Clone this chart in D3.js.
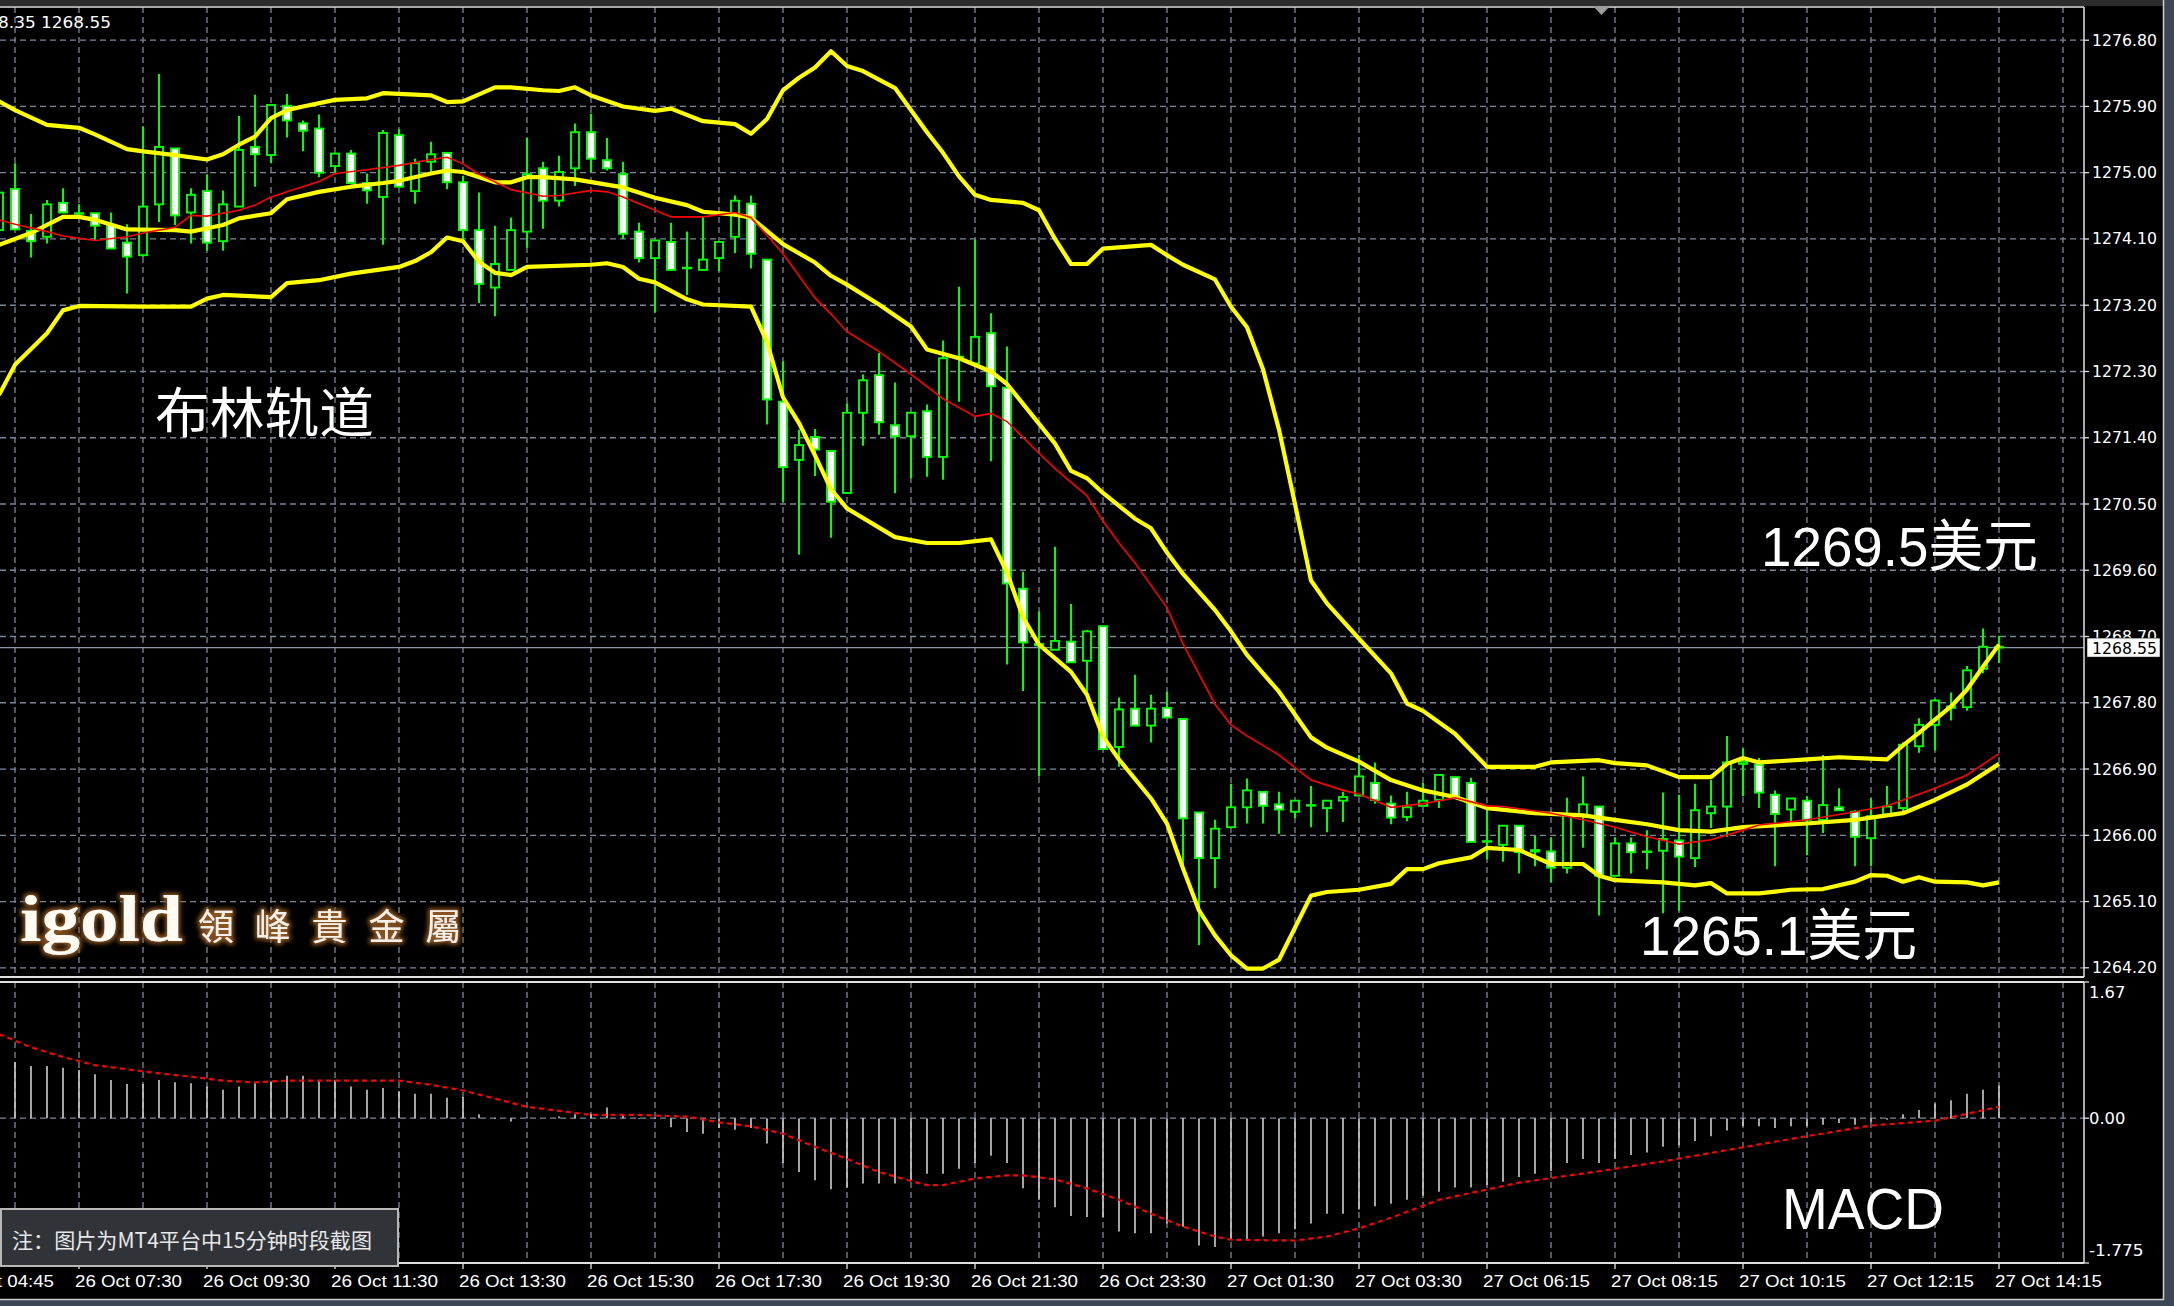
<!DOCTYPE html>
<html><head><meta charset="utf-8">
<script src="https://cdn.jsdelivr.net/npm/d3@7"></script>
<style>html,body{margin:0;padding:0;background:#000;overflow:hidden}</style>
</head><body>
<svg id="c" width="2174" height="1306" xmlns="http://www.w3.org/2000/svg"></svg>
<script>
// ---------- DATA ----------
const barStart = -1; // index of first bar in arrays below (15-minute bars)
const opens = [1274.22,1274.78,1274.21,1274.13,1274.59,1274.45,1274.45,1274.29,1274.05,1273.88,1274.57,
1275.33,1274.46,1274.75,1274.07,1274.54,1275.35,1275.24,1275.91,1275.67,1275.60,
1275.09,1275.26,1274.86,1274.67,1275.51,1274.75,1275.15,1275.27,1274.87,1274.22,
1273.44,1273.68,1274.20,1275.06,1274.62,1275.06,1275.55,1275.17,1274.98,1274.20,
1273.84,1274.06,1273.71,1273.68,1273.84,1274.13,1274.58,1273.82,1271.89,1271.10,
1271.41,1271.22,1270.65,1271.74,1272.25,1271.57,1271.42,1271.76,1271.14,1272.48,
1272.41,1272.82,1272.08,1269.35,1268.60,1268.52,1268.63,1268.37,1268.84,1267.20,
1267.72,1267.49,1267.73,1267.58,1266.31,1265.69,1266.11,1266.38,1266.59,1266.42,
1266.32,1266.41,1266.37,1266.47,1266.54,1266.71,1266.43,1266.25,1266.40,1266.48,
1266.79,1266.71,1265.92,1265.87,1266.13,1265.80,1265.78,1265.56,1266.27,1266.39,
1265.45,1265.89,1265.78,1265.79,1265.93,1265.69,1266.30,1266.39,1266.97,1266.96,
1266.55,1266.35,1266.47,1266.21,1266.38,1266.32,1265.96,1266.28,1266.37,1267.21,
1267.50,1267.73,1267.74,1268.26,1268.56];
const highs = [1274.80,1275.13,1274.44,1274.63,1274.79,1274.57,1274.45,1274.46,1274.30,1275.63,1276.34,
1275.33,1274.79,1274.98,1274.76,1275.77,1276.06,1275.92,1276.07,1275.71,1275.79,
1275.26,1275.31,1274.99,1275.58,1275.59,1275.19,1275.42,1275.27,1274.96,1274.73,
1274.28,1274.39,1275.47,1275.15,1275.23,1275.67,1275.80,1275.47,1275.15,1274.32,
1274.08,1274.32,1274.20,1274.40,1274.06,1274.69,1274.69,1273.82,1272.44,1271.51,
1271.52,1271.22,1271.87,1272.26,1272.55,1272.15,1271.74,1271.85,1272.72,1273.45,
1274.09,1273.09,1272.64,1269.58,1269.04,1269.92,1269.14,1268.79,1268.84,1267.87,
1268.18,1267.91,1267.95,1267.58,1266.31,1266.21,1266.70,1266.77,1266.59,1266.59,
1266.47,1266.67,1266.47,1266.59,1267.09,1266.99,1266.54,1266.59,1266.71,1266.82,
1266.79,1266.78,1266.37,1266.13,1266.13,1265.99,1265.97,1266.51,1266.80,1266.39,
1265.97,1265.97,1266.07,1266.58,1266.55,1266.70,1266.75,1267.35,1267.18,1267.05,
1266.61,1266.50,1266.53,1267.09,1266.64,1266.34,1266.50,1266.67,1267.26,1267.59,
1267.85,1267.94,1268.30,1268.81,1268.71];
const lows = [1274.15,1274.23,1273.85,1274.04,1274.45,1274.43,1274.09,1273.97,1273.36,1273.86,1274.33,
1274.29,1274.04,1273.94,1273.94,1274.54,1274.81,1275.13,1275.48,1275.29,1274.94,
1274.99,1274.86,1274.58,1274.02,1274.81,1274.58,1275.01,1274.78,1274.07,1273.23,
1273.05,1273.68,1273.98,1274.24,1274.54,1274.82,1275.01,1275.03,1274.10,1273.78,
1273.10,1273.68,1273.34,1273.68,1273.66,1273.91,1273.70,1271.58,1270.53,1269.81,
1270.88,1270.04,1270.65,1271.29,1271.44,1270.65,1270.85,1270.87,1270.83,1271.89,
1272.41,1271.08,1268.32,1267.96,1266.80,1268.52,1268.35,1267.88,1267.17,1266.93,
1267.49,1267.26,1267.60,1265.60,1264.51,1265.28,1266.11,1266.16,1266.16,1266.02,
1266.23,1266.11,1266.04,1266.18,1266.54,1266.43,1266.15,1266.19,1266.40,1266.37,
1266.52,1265.91,1265.67,1265.64,1265.48,1265.58,1265.36,1265.48,1265.83,1264.91,
1265.45,1265.48,1265.54,1264.94,1264.97,1265.57,1266.10,1265.98,1266.53,1266.37,
1265.58,1266.16,1265.73,1266.03,1266.34,1265.58,1265.58,1266.28,1266.32,1267.12,
1267.15,1267.56,1267.69,1268.20,1268.34];
const closes = [1274.73,1274.23,1274.07,1274.57,1274.46,1274.45,1274.28,1273.97,1273.86,1274.54,1275.35,
1274.42,1274.70,1274.05,1274.57,1275.31,1275.25,1275.92,1275.71,1275.57,1275.00,
1275.26,1274.86,1274.76,1275.54,1274.81,1275.13,1275.25,1274.87,1274.22,1273.49,
1273.76,1274.22,1274.98,1274.62,1275.01,1275.55,1275.19,1275.06,1274.17,1273.84,
1274.08,1273.68,1273.71,1273.82,1274.06,1274.62,1273.90,1271.92,1271.00,1271.30,
1271.24,1270.53,1271.74,1272.18,1271.61,1271.42,1271.74,1271.14,1272.48,1272.50,
1272.77,1272.10,1269.42,1268.62,1268.58,1268.64,1268.35,1268.77,1267.17,1267.71,
1267.49,1267.72,1267.60,1266.23,1265.69,1266.09,1266.38,1266.61,1266.40,1266.35,
1266.47,1266.41,1266.47,1266.52,1266.80,1266.48,1266.24,1266.38,1266.47,1266.82,
1266.52,1265.91,1265.92,1266.13,1265.77,1265.78,1265.56,1266.27,1266.42,1265.45,
1265.89,1265.77,1265.78,1265.95,1265.71,1266.34,1266.39,1266.99,1267.00,1266.58,
1266.29,1266.50,1266.21,1266.41,1266.34,1265.98,1266.26,1266.39,1267.23,1267.50,
1267.83,1267.75,1268.24,1268.56,1268.55];

// Bollinger bands and red moving average, read as [bar, price]
const bbUpper = [[-1,1275.97],[0,1275.85],[2,1275.65],[4,1275.61],[5,1275.52],[7,1275.32],[8,1275.29],[10,1275.24],[12,1275.18],[13,1275.25],[14,1275.38],[15,1275.49],[16,1275.74],[17,1275.85],[18,1275.90],[20,1275.99],[22,1276.01],[23,1276.08],[26,1276.05],[27,1275.96],[28,1275.97],[30,1276.16],[31,1276.16],[33,1276.12],[34,1276.11],[35,1276.16],[36,1276.05],[38,1275.90],[40,1275.84],[41,1275.87],[43,1275.70],[45,1275.66],[46,1275.53],[47,1275.73],[48,1276.12],[49,1276.29],[50,1276.43],[51,1276.65],[52,1276.45],[53,1276.38],[55,1276.15],[57,1275.55],[58,1275.27],[59,1274.95],[60,1274.70],[61,1274.63],[63,1274.59],[64,1274.49],[65,1274.10],[66,1273.76],[67,1273.76],[68,1273.97],[71,1274.02],[72,1273.88],[73,1273.75],[75,1273.55],[76,1273.18],[77,1272.90],[78,1272.33],[79,1271.51],[80,1270.50],[81,1269.46],[82,1269.15],[84,1268.67],[86,1268.20],[87,1267.79],[88,1267.69],[90,1267.38],[92,1266.93],[95,1266.93],[96,1266.99],[99,1267.02],[100,1266.98],[102,1266.95],[104,1266.79],[106,1266.79],[107,1266.97],[108,1267.05],[109,1266.99],[112,1267.03],[114,1267.06],[117,1267.03],[118,1267.22],[119,1267.39],[120,1267.57],[121,1267.75],[122,1267.98],[123,1268.29],[124,1268.59]];
const bbMiddle = [[-1,1274.02],[1,1274.18],[2,1274.29],[3,1274.40],[4,1274.40],[5,1274.36],[7,1274.23],[10,1274.22],[11,1274.20],[13,1274.29],[14,1274.38],[16,1274.45],[17,1274.64],[19,1274.74],[21,1274.81],[23,1274.86],[24,1274.89],[26,1274.99],[27,1275.03],[28,1275.01],[30,1274.87],[31,1274.87],[32,1274.94],[33,1274.94],[35,1274.91],[38,1274.80],[40,1274.66],[42,1274.56],[43,1274.47],[45,1274.43],[46,1274.39],[47,1274.21],[48,1274.03],[50,1273.78],[51,1273.60],[52,1273.48],[54,1273.21],[56,1272.91],[57,1272.60],[59,1272.48],[61,1272.30],[62,1272.13],[63,1271.86],[65,1271.32],[66,1270.95],[67,1270.85],[68,1270.65],[70,1270.30],[71,1270.17],[72,1269.84],[73,1269.55],[75,1269.06],[76,1268.77],[77,1268.45],[79,1267.95],[81,1267.33],[82,1267.19],[84,1267.00],[86,1266.75],[88,1266.61],[90,1266.52],[92,1266.37],[95,1266.30],[98,1266.27],[100,1266.21],[102,1266.15],[104,1266.07],[106,1266.05],[108,1266.11],[112,1266.16],[115,1266.21],[118,1266.30],[120,1266.48],[122,1266.69],[124,1266.97]];
const bbLower = [[-1,1271.98],[0,1272.39],[2,1272.82],[3,1273.13],[4,1273.19],[8,1273.18],[11,1273.18],[12,1273.29],[13,1273.34],[16,1273.31],[17,1273.50],[19,1273.54],[21,1273.63],[24,1273.72],[25,1273.80],[26,1273.92],[27,1274.12],[28,1274.07],[29,1273.79],[30,1273.64],[31,1273.61],[32,1273.72],[36,1273.75],[37,1273.77],[38,1273.72],[39,1273.56],[40,1273.51],[42,1273.28],[43,1273.21],[46,1273.18],[47,1272.70],[48,1271.95],[49,1271.60],[50,1271.16],[51,1270.70],[52,1270.44],[55,1270.05],[57,1269.97],[59,1269.97],[61,1270.02],[62,1269.57],[63,1268.96],[64,1268.59],[66,1268.22],[67,1267.91],[68,1267.34],[69,1267.03],[71,1266.50],[72,1266.16],[73,1265.55],[74,1264.98],[75,1264.64],[76,1264.37],[77,1264.19],[78,1264.19],[79,1264.31],[81,1265.18],[82,1265.23],[84,1265.26],[86,1265.34],[87,1265.54],[88,1265.54],[89,1265.62],[91,1265.70],[92,1265.83],[94,1265.80],[96,1265.61],[98,1265.61],[99,1265.45],[100,1265.39],[103,1265.36],[105,1265.32],[106,1265.35],[107,1265.21],[109,1265.21],[111,1265.26],[113,1265.27],[115,1265.37],[116,1265.46],[117,1265.45],[118,1265.37],[119,1265.43],[120,1265.37],[122,1265.36],[123,1265.32],[124,1265.36]];
const maRed = [[-1,1274.36],[0,1274.30],[2,1274.20],[3,1274.14],[5,1274.08],[7,1274.13],[8,1274.18],[10,1274.26],[11,1274.42],[12,1274.41],[14,1274.49],[15,1274.56],[16,1274.67],[17,1274.74],[19,1274.88],[20,1274.99],[22,1275.04],[24,1275.10],[26,1275.18],[27,1275.21],[28,1275.12],[29,1274.98],[31,1274.77],[33,1274.68],[34,1274.69],[36,1274.76],[37,1274.74],[38,1274.67],[40,1274.49],[41,1274.40],[43,1274.40],[45,1274.46],[46,1274.39],[47,1274.15],[48,1273.90],[49,1273.60],[50,1273.30],[51,1273.08],[52,1272.84],[54,1272.57],[56,1272.26],[58,1271.93],[60,1271.69],[61,1271.73],[62,1271.62],[64,1271.19],[65,1270.98],[67,1270.61],[68,1270.27],[69,1269.97],[70,1269.70],[72,1269.09],[73,1268.60],[75,1267.78],[76,1267.50],[77,1267.35],[79,1267.09],[81,1266.75],[83,1266.61],[84,1266.56],[86,1266.38],[88,1266.43],[90,1266.51],[92,1266.40],[93,1266.39],[96,1266.30],[98,1266.21],[100,1266.11],[102,1265.98],[104,1265.88],[106,1265.94],[108,1266.07],[109,1266.14],[112,1266.21],[115,1266.32],[117,1266.40],[118,1266.48],[120,1266.64],[122,1266.82],[124,1267.11]];

// MACD histogram (one value per bar from barStart) and signal line [bar, value]
const macdHist = [0.73,0.69,0.64,0.64,0.62,0.59,0.54,0.47,0.42,0.42,0.47,
0.44,0.43,0.39,0.35,0.39,0.43,0.45,0.52,0.52,0.46,
0.47,0.39,0.35,0.37,0.33,0.30,0.30,0.25,0.26,0.05,
-0.01,-0.04,0.01,0.00,0.02,0.05,0.05,0.13,0.03,-0.01,
-0.01,-0.11,-0.17,-0.19,-0.12,-0.14,-0.12,-0.31,-0.55,-0.66,
-0.76,-0.87,-0.85,-0.80,-0.80,-0.80,-0.76,-0.68,-0.68,-0.62,
-0.55,-0.46,-0.55,-0.86,-1.00,-1.09,-1.20,-1.21,-1.21,-1.39,
-1.41,-1.41,-1.29,-1.33,-1.56,-1.58,-1.49,-1.48,-1.45,-1.41,
-1.36,-1.29,-1.17,-1.17,-1.12,-1.08,-1.05,-1.00,-0.95,-0.90,
-0.85,-0.85,-0.82,-0.78,-0.72,-0.68,-0.65,-0.55,-0.50,-0.55,
-0.50,-0.45,-0.42,-0.35,-0.33,-0.28,-0.22,-0.15,-0.10,-0.10,
-0.12,-0.10,-0.10,-0.08,-0.06,-0.08,-0.05,-0.02,0.05,0.10,
0.18,0.22,0.30,0.35,0.40];
const macdSignal = [[-1,1.03],[1,0.87],[3,0.75],[5,0.65],[7,0.60],[9,0.55],[11,0.51],[13,0.46],[15,0.44],[17,0.46],[24,0.46],[26,0.41],[28,0.34],[30,0.24],[32,0.14],[34,0.09],[36,0.04],[39,0.04],[42,0.02],[44,-0.05],[46,-0.10],[48,-0.19],[50,-0.35],[52,-0.50],[54,-0.66],[56,-0.77],[57,-0.82],[58,-0.82],[60,-0.74],[62,-0.70],[63,-0.70],[65,-0.75],[67,-0.86],[69,-1.00],[71,-1.17],[73,-1.33],[75,-1.45],[76,-1.49],[80,-1.50],[82,-1.45],[84,-1.35],[86,-1.22],[89,-1.00],[94,-0.79],[99,-0.65],[103,-0.53],[107,-0.39],[112,-0.22],[116,-0.09],[120,-0.03],[124,0.14]];

// Axis labels
const priceTickLabels = ["1276.80","1275.90","1275.00","1274.10","1273.20","1272.30","1271.40","1270.50","1269.60","1268.70","1267.80","1266.90","1266.00","1265.10","1264.20"];
const macdTickLabels = ["1.67","0.00","-1.775"];
const timeLabels = ["26 Oct 04:45","26 Oct 07:30","26 Oct 09:30","26 Oct 11:30","26 Oct 13:30","26 Oct 15:30","26 Oct 17:30","26 Oct 19:30","26 Oct 21:30","26 Oct 23:30","27 Oct 01:30","27 Oct 03:30","27 Oct 06:15","27 Oct 08:15","27 Oct 10:15","27 Oct 12:15","27 Oct 14:15"];
const timeLabelBars = [-4,4,12,20,28,36,44,52,60,68,76,84,92,100,108,116,124];
const currentPrice = 1268.55;
const headerText = "8.35 1268.55";

// ---------- LAYOUT ----------
const W = 2174, H = 1306;
const mainTop = 7, mainBot = 977, macdTop = 982, macdBot = 1263, plotRight = 2084;
const svg = d3.select("#c");
const x = d3.scaleLinear().domain([0,124]).range([15,1999]);
const y = d3.scaleLinear().domain([1264.20,1276.80]).range([967.8,40.2]);
const ym = d3.scaleLinear().domain([-1.775,1.67]).range([macdBot,macdTop]);

const defs = svg.append("defs");
defs.append("clipPath").attr("id","clipMain").append("rect").attr("x",0).attr("y",mainTop).attr("width",plotRight).attr("height",mainBot-mainTop);
defs.append("clipPath").attr("id","clipMacd").append("rect").attr("x",0).attr("y",macdTop).attr("width",plotRight).attr("height",macdBot-macdTop);
const glow = defs.append("filter").attr("id","glow").attr("x","-20%").attr("y","-30%").attr("width","140%").attr("height","160%");
glow.append("feMorphology").attr("in","SourceAlpha").attr("operator","dilate").attr("radius",1.8).attr("result","d");
glow.append("feGaussianBlur").attr("in","d").attr("stdDeviation",2).attr("result","b");
glow.append("feFlood").attr("flood-color","#8a5420").attr("result","f");
glow.append("feComposite").attr("in","f").attr("in2","b").attr("operator","in").attr("result","s");
const gm = glow.append("feMerge");
gm.append("feMergeNode").attr("in","s");
gm.append("feMergeNode").attr("in","SourceGraphic");

svg.append("rect").attr("width",W).attr("height",H).attr("fill","#000");
// window frame
svg.append("rect").attr("x",0).attr("y",0).attr("width",W).attr("height",6).attr("fill","#2c2c2c");
svg.append("rect").attr("x",2164).attr("y",0).attr("width",10).attr("height",H).attr("fill","#3b4757");
svg.append("rect").attr("x",0).attr("y",1300).attr("width",W).attr("height",6).attr("fill","#3b4757");
svg.append("line").attr("x1",0).attr("x2",2164).attr("y1",1299.5).attr("y2",1299.5).attr("stroke","#cfcfcf").attr("stroke-width",1.5);
svg.append("line").attr("x1",2163.5).attr("x2",2163.5).attr("y1",0).attr("y2",1300).attr("stroke","#cfcfcf").attr("stroke-width",1.5);

const gridColor = "#7a8896";
// ---------- GRIDS ----------
const gMain = svg.append("g").attr("clip-path","url(#clipMain)");
const gMacd = svg.append("g").attr("clip-path","url(#clipMacd)");
const vBars = d3.range(0,129,4);
gMain.selectAll("line.vg").data(vBars).join("line").attr("class","vg")
  .attr("x1",d=>x(d)).attr("x2",d=>x(d)).attr("y1",mainTop).attr("y2",mainBot)
  .attr("stroke",gridColor).attr("stroke-width",1.3).attr("stroke-dasharray","6,4");
gMacd.selectAll("line.vg").data(vBars).join("line").attr("class","vg")
  .attr("x1",d=>x(d)).attr("x2",d=>x(d)).attr("y1",macdTop).attr("y2",macdBot)
  .attr("stroke",gridColor).attr("stroke-width",1.3).attr("stroke-dasharray","6,4");
const priceTicks = priceTickLabels.map(Number);
gMain.selectAll("line.hg").data(priceTicks).join("line").attr("class","hg")
  .attr("x1",0).attr("x2",plotRight).attr("y1",d=>y(d)).attr("y2",d=>y(d))
  .attr("stroke",gridColor).attr("stroke-width",1.3).attr("stroke-dasharray","6,4");
gMacd.append("line").attr("x1",0).attr("x2",plotRight).attr("y1",ym(0)).attr("y2",ym(0))
  .attr("stroke",gridColor).attr("stroke-width",1.3).attr("stroke-dasharray","6,4");

// current price line
gMain.append("line").attr("x1",0).attr("x2",plotRight).attr("y1",y(currentPrice)).attr("y2",y(currentPrice))
  .attr("stroke","#8a96a3").attr("stroke-width",1.2);

// ---------- CANDLES ----------
const bars = opens.map((o,i)=>({k:i+barStart,o,h:highs[i],l:lows[i],c:closes[i]}));
gMain.selectAll("line.wick").data(bars).join("line").attr("class","wick")
  .attr("x1",d=>x(d.k)).attr("x2",d=>x(d.k)).attr("y1",d=>y(d.h)).attr("y2",d=>y(d.l))
  .attr("stroke","#00ff00").attr("stroke-width",2);
gMain.selectAll("rect.body").data(bars).join("rect").attr("class","body")
  .attr("x",d=>x(d.k)-4).attr("width",8)
  .attr("y",d=>y(Math.max(d.o,d.c)))
  .attr("height",d=>Math.max(Math.abs(y(d.o)-y(d.c)),0.6))
  .attr("fill",d=>d.c<d.o?"#ffffff":"#000000")
  .attr("stroke","#00ff00").attr("stroke-width",1.9);

// ---------- INDICATOR LINES ----------
const line = d3.line().x(d=>x(d[0])).y(d=>y(d[1]));
[bbUpper,bbMiddle,bbLower].forEach(s=>{
  gMain.append("path").attr("d",line(s)).attr("fill","none").attr("stroke","#ffff00")
    .attr("stroke-width",4.2).attr("stroke-linejoin","round");
});
gMain.append("path").attr("d",line(maRed)).attr("fill","none").attr("stroke","#ff0000").attr("stroke-width",1.6);

// ---------- MACD ----------
const hist = macdHist.map((v,i)=>({k:i+barStart,v}));
gMacd.selectAll("line.h").data(hist).join("line").attr("class","h")
  .attr("x1",d=>x(d.k)).attr("x2",d=>x(d.k)).attr("y1",ym(0)).attr("y2",d=>ym(d.v))
  .attr("stroke","#cfcfcf").attr("stroke-width",1.6);
gMacd.append("path").attr("d",d3.line().x(d=>x(d[0])).y(d=>ym(d[1]))(macdSignal))
  .attr("fill","none").attr("stroke","#ff0000").attr("stroke-width",2.2).attr("stroke-dasharray","5,4");

// ---------- FRAMES ----------
const frameColor = "#e0e0e0";
svg.append("line").attr("x1",0).attr("x2",plotRight).attr("y1",mainTop).attr("y2",mainTop).attr("stroke",frameColor).attr("stroke-width",1.5);
svg.append("line").attr("x1",0).attr("x2",plotRight).attr("y1",mainBot).attr("y2",mainBot).attr("stroke",frameColor).attr("stroke-width",2);
svg.append("line").attr("x1",0).attr("x2",plotRight).attr("y1",macdTop).attr("y2",macdTop).attr("stroke",frameColor).attr("stroke-width",2);
svg.append("line").attr("x1",0).attr("x2",plotRight).attr("y1",macdBot).attr("y2",macdBot).attr("stroke",frameColor).attr("stroke-width",2);
svg.append("line").attr("x1",plotRight).attr("x2",plotRight).attr("y1",mainTop).attr("y2",mainBot).attr("stroke",frameColor).attr("stroke-width",1.5);
svg.append("line").attr("x1",plotRight).attr("x2",plotRight).attr("y1",macdTop).attr("y2",macdBot).attr("stroke",frameColor).attr("stroke-width",1.5);

// chart shift marker
svg.append("path").attr("d","M1593,6 L1610,6 L1601.5,15 Z").attr("fill","#9c9c9c");

// ---------- AXES ----------
const axisFont = "DejaVu Sans, Verdana, sans-serif";
const gAx = svg.append("g");
gAx.selectAll("line.pt").data(priceTicks).join("line").attr("class","pt")
  .attr("x1",plotRight).attr("x2",plotRight+5).attr("y1",d=>y(d)).attr("y2",d=>y(d))
  .attr("stroke",frameColor).attr("stroke-width",1.3);
gAx.selectAll("text.pl").data(priceTickLabels).join("text").attr("class","pl")
  .attr("x",2092).attr("y",d=>y(+d)+5.5).attr("fill","#ffffff")
  .attr("font-family",axisFont).attr("font-size",15)
  .attr("textLength",65).attr("lengthAdjust","spacingAndGlyphs").text(d=>d);
// current price tag
gAx.append("rect").attr("x",2087).attr("y",y(currentPrice)-9.5).attr("width",73).attr("height",19)
  .attr("fill","#ffffff").attr("stroke","#000").attr("stroke-width",0.5);
gAx.append("text").attr("x",2092).attr("y",y(currentPrice)+6).attr("fill","#000")
  .attr("font-family",axisFont).attr("font-size",15)
  .attr("textLength",65).attr("lengthAdjust","spacingAndGlyphs").text(currentPrice.toFixed(2));
// MACD scale
const macdTicks = macdTickLabels.map(Number);
const macdLabelY = [ym(1.67)+16, ym(0)+5.5, ym(-1.775)-7];
gAx.selectAll("line.mt").data(macdTicks).join("line").attr("class","mt")
  .attr("x1",plotRight).attr("x2",plotRight+5).attr("y1",d=>ym(d)).attr("y2",d=>ym(d))
  .attr("stroke",frameColor).attr("stroke-width",1.3);
gAx.selectAll("text.ml").data(macdTickLabels).join("text").attr("class","ml")
  .attr("x",2089).attr("y",(d,i)=>macdLabelY[i]).attr("fill","#ffffff")
  .attr("font-family",axisFont).attr("font-size",15)
  .attr("textLength",d=>d.length*9.1).attr("lengthAdjust","spacingAndGlyphs").text(d=>d);
// time axis
gAx.selectAll("line.tt").data(timeLabelBars).join("line").attr("class","tt")
  .attr("x1",d=>x(d)).attr("x2",d=>x(d)).attr("y1",macdBot).attr("y2",macdBot+6)
  .attr("stroke",frameColor).attr("stroke-width",1.3);
gAx.selectAll("text.tl").data(timeLabels).join("text").attr("class","tl")
  .attr("x",(d,i)=>x(timeLabelBars[i])-4).attr("y",1287).attr("fill","#ffffff")
  .attr("font-family","Liberation Sans Narrow, Liberation Sans, Arial, sans-serif").attr("font-size",17)
  .attr("textLength",107).attr("lengthAdjust","spacingAndGlyphs").text(d=>d);

// header text
svg.append("text").attr("x",-2).attr("y",28).attr("fill","#ffffff")
  .attr("font-family",axisFont).attr("font-size",15)
  .attr("textLength",113).attr("lengthAdjust","spacingAndGlyphs").text(headerText);

// ---------- ANNOTATIONS ----------
const bigFont = "Liberation Sans, Noto Sans CJK SC, sans-serif";
svg.append("text").attr("x",155).attr("y",433).attr("fill","#ffffff")
  .attr("font-family","Noto Sans CJK SC, sans-serif").attr("font-size",54)
  .attr("textLength",219).attr("lengthAdjust","spacingAndGlyphs").text("布林轨道");
svg.append("text").attr("x",1761).attr("y",566).attr("fill","#ffffff")
  .attr("font-family",bigFont).attr("font-size",56)
  .attr("textLength",277).attr("lengthAdjust","spacingAndGlyphs").text("1269.5美元");
svg.append("text").attr("x",1640).attr("y",955).attr("fill","#ffffff")
  .attr("font-family",bigFont).attr("font-size",56)
  .attr("textLength",277).attr("lengthAdjust","spacingAndGlyphs").text("1265.1美元");
svg.append("text").attr("x",1782).attr("y",1229).attr("fill","#ffffff")
  .attr("font-family",bigFont).attr("font-size",58)
  .attr("textLength",162).attr("lengthAdjust","spacingAndGlyphs").text("MACD");

// logo
const logo = svg.append("g").attr("filter","url(#glow)");
logo.append("text").attr("x",20).attr("y",941).attr("fill","#fffaf2")
  .attr("font-family","Liberation Serif, DejaVu Serif, serif").attr("font-weight","bold").attr("font-size",66)
  .attr("textLength",163).attr("lengthAdjust","spacingAndGlyphs").text("igold");
const logoChars = ["領","峰","貴","金","屬"];
logo.selectAll("text.lc").data(logoChars).join("text").attr("class","lc")
  .attr("x",(d,i)=>198+i*56.8).attr("y",940).attr("fill","#f6efe6")
  .attr("font-family","Noto Sans CJK TC, sans-serif").attr("font-size",36).text(d=>d);

// note box
svg.append("rect").attr("x",1).attr("y",1209).attr("width",397).attr("height",57)
  .attr("fill","#303338").attr("stroke","#b8b8b8").attr("stroke-width",2);
svg.append("text").attr("x",12).attr("y",1248).attr("fill","#e8e8e8")
  .attr("font-family","Noto Sans CJK SC, sans-serif").attr("font-size",21)
  .attr("textLength",360).attr("lengthAdjust","spacingAndGlyphs").text("注：图片为MT4平台中15分钟时段截图");
</script>
</body></html>
